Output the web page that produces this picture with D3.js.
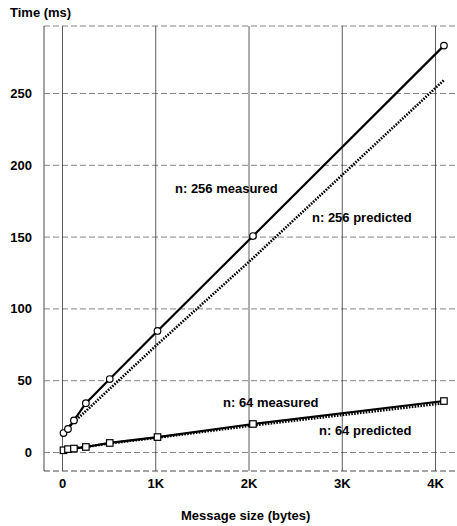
<!DOCTYPE html>
<html>
<head>
<meta charset="utf-8">
<script src="https://cdn.jsdelivr.net/npm/d3@7"></script>
<style>
  body { margin: 0; background: #fff; }
  text { font-family: "Liberation Sans", Arial, sans-serif; font-weight: bold; fill: #000; }
  .grid-h line { stroke: #666; stroke-width: 0.8; stroke-dasharray: 6,3; }
  .grid-v line { stroke: #333; stroke-width: 0.8; }
  .axis .domain { stroke: #333; stroke-width: 0.9; }
  .measured { fill: none; stroke: #000; stroke-width: 2.2; }
  .predicted { fill: none; stroke: #000; stroke-width: 2.6; stroke-dasharray: 1.6,1.3; }
  .marker { fill: #fff; stroke: #000; stroke-width: 1.2; }
</style>
</head>
<body>
<div id="viz"></div>
<script>
// message sizes (bytes) and times (ms)
const sizes        = [16, 64, 128, 256, 512, 1024, 2048, 4096]
const n256Measured  = [13.2, 16, 22, 34, 50.8, 84.3, 150.4, 283]
const n256Predicted = [14, 17, 21, 28.5, 44, 75, 135, 259]
const n64Measured   = [1.2, 2, 2.4, 3.5, 6.3, 10.4, 19.5, 35.5]
const n64Predicted  = [1.5, 2, 2.6, 3.6, 6, 10, 18.5, 34]

const xTicks = [0, 1000, 2000, 3000, 4000]
const xTickLabels = ['0', '1K', '2K', '3K', '4K']
const yTicks = [0, 50, 100, 150, 200, 250]

const seriesLabels = [
    {text: 'n: 256 measured',  x: 175, y: 193},
    {text: 'n: 256 predicted', x: 312, y: 222},
    {text: 'n: 64 measured',   x: 223, y: 407},
    {text: 'n: 64 predicted',  x: 319, y: 435},
]

const W = 457, H = 526
const frame = {left: 44, top: 26, right: 457, bottom: 471}

const svg = d3.select('#viz').append('svg')
    .attr('width', W)
    .attr('height', H)

const x = d3.scaleLinear().domain([0, 4000]).range([62, 435])
const y = d3.scaleLinear().domain([0, 250]).range([452, 93])

// top border (dashed like the gridlines)
svg.append('line')
    .attr('x1', frame.left).attr('x2', frame.right)
    .attr('y1', frame.top).attr('y2', frame.top)
    .attr('stroke', '#666').attr('stroke-width', 0.8).attr('stroke-dasharray', '6,3')

// y axis + horizontal gridlines
const yAxis = svg.append('g').attr('class', 'axis grid-h')
    .attr('transform', `translate(${frame.left},0)`)
    .call(d3.axisLeft(y).tickValues(yTicks).tickSize(-(frame.right - frame.left)).tickSizeOuter(0).tickPadding(12))
yAxis.select('.domain').attr('d', `M0,${frame.top}V${frame.bottom}`)
yAxis.selectAll('text').style('font-size', '13px').attr('dy', '0.35em')

// x axis + vertical gridlines
const xAxis = svg.append('g').attr('class', 'axis grid-v')
    .attr('transform', `translate(0,${frame.bottom})`)
    .call(d3.axisBottom(x).tickValues(xTicks).tickFormat((d, i) => xTickLabels[i])
        .tickSize(-(frame.bottom - frame.top)).tickSizeOuter(0).tickPadding(8))
xAxis.select('.domain')
    .attr('d', `M${frame.left},0H${frame.right}`)
    .attr('stroke-dasharray', '6,3').attr('stroke', '#666')
xAxis.selectAll('text').style('font-size', '13px')

// axis titles
svg.append('text').text('Time (ms)')
    .attr('x', 10).attr('y', 17)
    .style('font-size', '13px')
svg.append('text').text('Message size (bytes)')
    .attr('x', 181).attr('y', 520)
    .style('font-size', '13px')

const line = d3.line().x(d => x(d[0])).y(d => y(d[1]))
const pairs = vals => sizes.map((s, i) => [s, vals[i]])

// predicted (dotted)
;[n256Predicted, n64Predicted].forEach(vals => {
    svg.append('path').attr('class', 'predicted').attr('d', line(pairs(vals)))
})

// measured (solid)
svg.append('path').attr('class', 'measured').attr('d', line(pairs(n256Measured)))
svg.append('path').attr('class', 'measured').attr('d', line(pairs(n64Measured)))

svg.append('g').selectAll('circle').data(pairs(n256Measured)).join('circle')
    .attr('class', 'marker')
    .attr('cx', d => x(d[0])).attr('cy', d => y(d[1]))
    .attr('r', 3.3)

const sq = 6.5
svg.append('g').selectAll('rect').data(pairs(n64Measured)).join('rect')
    .attr('class', 'marker')
    .attr('x', d => x(d[0]) - sq / 2).attr('y', d => y(d[1]) - sq / 2)
    .attr('width', sq).attr('height', sq)

// series labels
svg.append('g').selectAll('text').data(seriesLabels).join('text')
    .attr('x', d => d.x).attr('y', d => d.y)
    .style('font-size', '13px')
    .text(d => d.text)
</script>
</body>
</html>
